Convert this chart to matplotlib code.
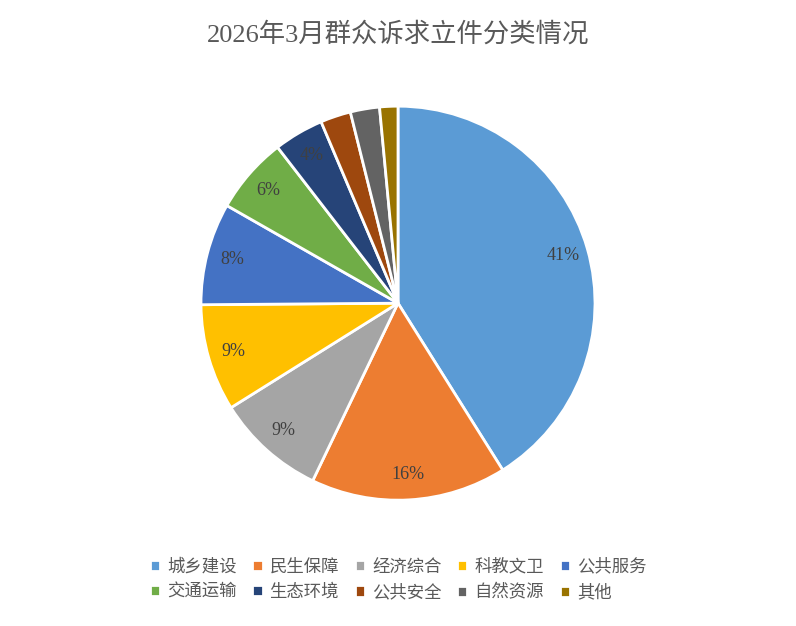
import matplotlib
matplotlib.use("Agg")
import matplotlib.pyplot as plt

categories = ["城乡建设", "民生保障", "经济综合", "科教文卫", "公共服务", "交通运输", "生态环境", "公共安全", "自然资源", "其他"]
values = [41.2, 16.1, 9.0, 8.8, 8.4, 6.3, 4.1, 2.5, 2.4, 1.5]
colors = ["#5B9BD5", "#ED7D31", "#A5A5A5", "#FFC000", "#4472C4", "#70AD47", "#264478", "#9E480E", "#636363", "#997300"]
title = "2026年3月群众诉求立件分类情况"

fonts = ["Liberation Serif", "Noto Sans CJK SC", "DejaVu Sans"]
plt.rcParams["font.family"] = fonts

fig = plt.figure(figsize=(7.96, 6.26), dpi=100)
ax = fig.add_axes([0.2525, 0.201, 0.495, 0.6294])
def fmt(p):
    return f"{p:.0f}%" if p >= 3.5 else ""
wedges, texts, autotexts = ax.pie(values, colors=colors, startangle=90, counterclock=False,
       autopct=fmt, pctdistance=0.87, wedgeprops=dict(edgecolor="white", linewidth=2),
       textprops=dict(fontsize=13, color="#404040"))
ax.set_xlim(-1.0, 1.0)
ax.set_ylim(-1.0, 1.0)
ax.set_aspect("equal")
fig.text(0.5, 0.945, title, ha="center", va="center", fontsize=19, color="#595959")
n = 5
order = []
for c in range(n):
    for r in range(2):
        order.append(r * n + c)
fig.legend([wedges[i] for i in order], [categories[i] for i in order], loc="center",
           bbox_to_anchor=(0.5, 0.073), ncol=n, frameon=False,
           fontsize=12.5, handlelength=0.6, handleheight=0.6, handletextpad=0.4, columnspacing=0.9,
           labelspacing=0.5, labelcolor="#595959")
fig.savefig("out.png", dpi=100)
